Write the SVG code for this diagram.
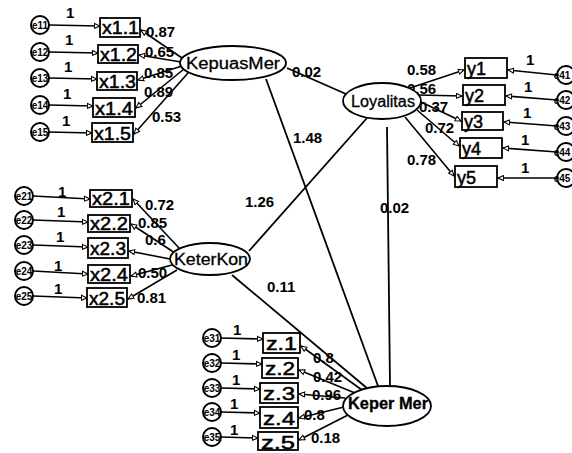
<svg xmlns="http://www.w3.org/2000/svg" width="572" height="453" viewBox="0 0 572 453">
<defs>
<marker id="ah" viewBox="0 0 10 10" refX="9" refY="5" markerWidth="7" markerHeight="7" markerUnits="userSpaceOnUse" orient="auto"><path d="M1,1.5 L9,5 L1,8.5 Z" fill="#fff" stroke="#000" stroke-width="1.5"/></marker>
<style>
.ln{stroke:#000;stroke-width:1.8;fill:none}
.ar{stroke:#000;stroke-width:1.6;fill:none;marker-end:url(#ah)}
.bx{fill:#fff;stroke:#000;stroke-width:1.8}
.el{fill:#fff;stroke:#000;stroke-width:1.8}
.ec{fill:#fff;stroke:#000;stroke-width:2}
.bt{font-family:"Liberation Sans",Arial,sans-serif;font-size:18px;fill:#000;stroke:#000;stroke-width:0.5}
.lt{font-family:"Liberation Sans",Arial,sans-serif;font-size:16px;fill:#000;stroke:#000;stroke-width:0.3;text-anchor:middle}
.nm{font-family:"Liberation Sans",Arial,sans-serif;font-size:15px;font-weight:bold;fill:#000}
.et{font-family:"Liberation Sans",Arial,sans-serif;font-size:10px;font-weight:bold;fill:#000;text-anchor:middle}
</style>
</defs>
<rect width="572" height="453" fill="#fff"/>
<g id="connectors">
<line class="ln" x1="287" y1="68" x2="346" y2="94"/>
<line class="ln" x1="266" y1="79" x2="378" y2="386"/>
<line class="ln" x1="367" y1="118" x2="249" y2="251"/>
<line class="ln" x1="387" y1="127" x2="390" y2="385"/>
<line class="ln" x1="232" y1="275" x2="368" y2="389"/>
<line class="ar" x1="49" y1="25" x2="100" y2="26"/>
<line class="ar" x1="49" y1="52" x2="98" y2="53"/>
<line class="ar" x1="49" y1="78" x2="97" y2="79"/>
<line class="ar" x1="49" y1="105" x2="93" y2="106"/>
<line class="ar" x1="49" y1="132" x2="92" y2="133"/>
<line class="ar" x1="182" y1="58" x2="141" y2="30"/>
<line class="ar" x1="181" y1="62" x2="139" y2="55"/>
<line class="ar" x1="182" y1="66" x2="138" y2="80"/>
<line class="ar" x1="184" y1="69" x2="136" y2="108"/>
<line class="ar" x1="188" y1="73" x2="134" y2="134"/>
<line class="ar" x1="33" y1="196" x2="90" y2="199"/>
<line class="ar" x1="33" y1="220" x2="88" y2="222"/>
<line class="ar" x1="33" y1="245" x2="88" y2="247"/>
<line class="ar" x1="33" y1="271" x2="88" y2="274"/>
<line class="ar" x1="33" y1="296" x2="87" y2="298"/>
<line class="ar" x1="180" y1="249" x2="133" y2="199"/>
<line class="ar" x1="175" y1="253" x2="131" y2="224"/>
<line class="ar" x1="170" y1="259" x2="129" y2="251"/>
<line class="ar" x1="172" y1="265" x2="131" y2="276"/>
<line class="ar" x1="177" y1="270" x2="128" y2="299"/>
<line class="ar" x1="221" y1="338" x2="263" y2="339"/>
<line class="ar" x1="221" y1="363" x2="262" y2="364"/>
<line class="ar" x1="221" y1="388" x2="260" y2="389"/>
<line class="ar" x1="221" y1="412" x2="260" y2="413"/>
<line class="ar" x1="221" y1="437" x2="258" y2="438"/>
<line class="ar" x1="362" y1="390" x2="301" y2="346"/>
<line class="ar" x1="355" y1="393" x2="299" y2="370"/>
<line class="ar" x1="345" y1="398" x2="299" y2="394"/>
<line class="ar" x1="344" y1="407" x2="299" y2="418"/>
<line class="ar" x1="348" y1="415" x2="299" y2="440"/>
<line class="ar" x1="557" y1="75" x2="508" y2="70"/>
<line class="ar" x1="557" y1="100" x2="506" y2="96"/>
<line class="ar" x1="557" y1="126" x2="504" y2="122"/>
<line class="ar" x1="557" y1="152" x2="503" y2="148"/>
<line class="ar" x1="557" y1="178" x2="498" y2="178"/>
<line class="ar" x1="410" y1="88" x2="464" y2="70"/>
<line class="ar" x1="418" y1="95" x2="462" y2="96"/>
<line class="ar" x1="421" y1="102" x2="461" y2="121"/>
<line class="ar" x1="417" y1="110" x2="459" y2="146"/>
<line class="ar" x1="405" y1="117" x2="454" y2="176"/>
</g>
<g id="labels">
<text class="nm" x="292" y="77">0.02</text>
<text class="nm" x="293" y="143">1.48</text>
<text class="nm" x="245" y="207">1.26</text>
<text class="nm" x="380" y="213">0.02</text>
<text class="nm" x="267" y="292">0.11</text>
<text class="nm" x="66" y="18">1</text>
<text class="nm" x="65" y="45">1</text>
<text class="nm" x="64" y="72">1</text>
<text class="nm" x="63" y="99">1</text>
<text class="nm" x="62" y="126">1</text>
<text class="nm" x="146" y="37">0.87</text>
<text class="nm" x="145" y="57">0.65</text>
<text class="nm" x="144" y="78">0.85</text>
<text class="nm" x="144" y="97">0.89</text>
<text class="nm" x="152" y="122">0.53</text>
<text class="nm" x="58" y="197">1</text>
<text class="nm" x="57" y="217">1</text>
<text class="nm" x="56" y="242">1</text>
<text class="nm" x="54" y="271">1</text>
<text class="nm" x="54" y="294">1</text>
<text class="nm" x="145" y="210">0.72</text>
<text class="nm" x="138" y="228">0.85</text>
<text class="nm" x="145" y="245">0.6</text>
<text class="nm" x="138" y="278">0.50</text>
<text class="nm" x="137" y="303">0.81</text>
<text class="nm" x="233" y="335">1</text>
<text class="nm" x="232" y="360">1</text>
<text class="nm" x="232" y="385">1</text>
<text class="nm" x="230" y="409">1</text>
<text class="nm" x="230" y="435">1</text>
<text class="nm" x="313" y="363">0.8</text>
<text class="nm" x="313" y="382">0.42</text>
<text class="nm" x="312" y="400">0.96</text>
<text class="nm" x="304" y="420">0.8</text>
<text class="nm" x="311" y="443">0.18</text>
<text class="nm" x="526" y="65">1</text>
<text class="nm" x="524" y="92">1</text>
<text class="nm" x="523" y="118">1</text>
<text class="nm" x="521" y="145">1</text>
<text class="nm" x="521" y="173">1</text>
<text class="nm" x="407" y="75">0.58</text>
<text class="nm" x="407" y="94">0.56</text>
<text class="nm" x="419" y="112">0.37</text>
<text class="nm" x="425" y="133">0.72</text>
<text class="nm" x="407" y="165">0.78</text>
</g>
<g id="KepuasMer"><ellipse class="el" cx="233" cy="63" rx="53" ry="17"/><text class="lt" x="233" y="69" textLength="94" lengthAdjust="spacingAndGlyphs">KepuasMer</text></g>
<g id="Loyalitas"><ellipse class="el" cx="382" cy="101" rx="39" ry="18"/><text class="lt" x="383" y="107" textLength="64" lengthAdjust="spacingAndGlyphs">Loyalitas</text></g>
<g id="KeterKon"><ellipse class="el" cx="210" cy="259" rx="40" ry="16"/><text class="lt" x="211" y="265" textLength="74" lengthAdjust="spacingAndGlyphs">KeterKon</text></g>
<g id="KeperMer"><ellipse class="el" cx="387" cy="406" rx="44" ry="20"/><text class="lt" x="388" y="409" font-weight="bold" textLength="80" lengthAdjust="spacingAndGlyphs">Keper Mer</text></g>
<g id="x1.1"><rect class="bx" x="100" y="18" width="40" height="19"/><text class="bt" x="102" y="34" textLength="37" lengthAdjust="spacingAndGlyphs">x1.1</text></g>
<g id="x1.2"><rect class="bx" x="98" y="45" width="40" height="18"/><text class="bt" x="100" y="61" textLength="37" lengthAdjust="spacingAndGlyphs">x1.2</text></g>
<g id="x1.3"><rect class="bx" x="97" y="72" width="40" height="18"/><text class="bt" x="99" y="88" textLength="37" lengthAdjust="spacingAndGlyphs">x1.3</text></g>
<g id="x1.4"><rect class="bx" x="93" y="98" width="42" height="19"/><text class="bt" x="95" y="115" textLength="38" lengthAdjust="spacingAndGlyphs">x1.4</text></g>
<g id="x1.5"><rect class="bx" x="92" y="123" width="41" height="19"/><text class="bt" x="94" y="140" textLength="37" lengthAdjust="spacingAndGlyphs">x1.5</text></g>
<g id="x2.1"><rect class="bx" x="90" y="190" width="42" height="17"/><text class="bt" x="92" y="205" textLength="38" lengthAdjust="spacingAndGlyphs">x2.1</text></g>
<g id="x2.2"><rect class="bx" x="88" y="215" width="42" height="17"/><text class="bt" x="90" y="230" textLength="38" lengthAdjust="spacingAndGlyphs">x2.2</text></g>
<g id="x2.3"><rect class="bx" x="88" y="238" width="40" height="20"/><text class="bt" x="90" y="255" textLength="36" lengthAdjust="spacingAndGlyphs">x2.3</text></g>
<g id="x2.4"><rect class="bx" x="88" y="265" width="42" height="18"/><text class="bt" x="90" y="281" textLength="38" lengthAdjust="spacingAndGlyphs">x2.4</text></g>
<g id="x2.5"><rect class="bx" x="87" y="288" width="40" height="19"/><text class="bt" x="89" y="305" textLength="36" lengthAdjust="spacingAndGlyphs">x2.5</text></g>
<g id="z.1"><rect class="bx" x="263" y="333" width="37" height="20"/><text class="bt" x="266" y="350" textLength="31" lengthAdjust="spacingAndGlyphs">z.1</text></g>
<g id="z.2"><rect class="bx" x="262" y="358" width="36" height="20"/><text class="bt" x="265" y="375" textLength="30" lengthAdjust="spacingAndGlyphs">z.2</text></g>
<g id="z.3"><rect class="bx" x="260" y="383" width="38" height="20"/><text class="bt" x="263" y="400" textLength="32" lengthAdjust="spacingAndGlyphs">z.3</text></g>
<g id="z.4"><rect class="bx" x="260" y="407" width="38" height="21"/><text class="bt" x="263" y="425" textLength="32" lengthAdjust="spacingAndGlyphs">z.4</text></g>
<g id="z.5"><rect class="bx" x="258" y="432" width="40" height="18"/><text class="bt" x="261" y="449" textLength="34" lengthAdjust="spacingAndGlyphs">z.5</text></g>
<g id="y1"><rect class="bx" x="465" y="58" width="42" height="20"/><text class="bt" x="467" y="75">y1</text></g>
<g id="y2"><rect class="bx" x="463" y="85" width="42" height="20"/><text class="bt" x="465" y="102">y2</text></g>
<g id="y3"><rect class="bx" x="462" y="112" width="41" height="18"/><text class="bt" x="464" y="128">y3</text></g>
<g id="y4"><rect class="bx" x="460" y="138" width="42" height="20"/><text class="bt" x="462" y="155">y4</text></g>
<g id="y5"><rect class="bx" x="455" y="166" width="42" height="21"/><text class="bt" x="457" y="184">y5</text></g>
<g id="e11"><circle class="ec" cx="40" cy="25" r="9"/><text class="et" x="40" y="29">e11</text></g>
<g id="e12"><circle class="ec" cx="40" cy="52" r="9"/><text class="et" x="40" y="56">e12</text></g>
<g id="e13"><circle class="ec" cx="40" cy="78" r="9"/><text class="et" x="40" y="82">e13</text></g>
<g id="e14"><circle class="ec" cx="40" cy="105" r="9"/><text class="et" x="40" y="109">e14</text></g>
<g id="e15"><circle class="ec" cx="40" cy="132" r="9"/><text class="et" x="40" y="136">e15</text></g>
<g id="e21"><circle class="ec" cx="24" cy="196" r="9"/><text class="et" x="24" y="200">e21</text></g>
<g id="e22"><circle class="ec" cx="24" cy="220" r="9"/><text class="et" x="24" y="224">e22</text></g>
<g id="e23"><circle class="ec" cx="24" cy="245" r="9"/><text class="et" x="24" y="249">e23</text></g>
<g id="e24"><circle class="ec" cx="24" cy="271" r="9"/><text class="et" x="24" y="275">e24</text></g>
<g id="e25"><circle class="ec" cx="24" cy="296" r="9"/><text class="et" x="24" y="300">e25</text></g>
<g id="e31"><circle class="ec" cx="212" cy="338" r="9"/><text class="et" x="212" y="342">e31</text></g>
<g id="e32"><circle class="ec" cx="212" cy="363" r="9"/><text class="et" x="212" y="367">e32</text></g>
<g id="e33"><circle class="ec" cx="212" cy="388" r="9"/><text class="et" x="212" y="392">e33</text></g>
<g id="e34"><circle class="ec" cx="212" cy="412" r="9"/><text class="et" x="212" y="416">e34</text></g>
<g id="e35"><circle class="ec" cx="212" cy="437" r="9"/><text class="et" x="212" y="441">e35</text></g>
<g id="e41"><circle class="ec" cx="566" cy="75" r="9"/><text class="et" x="562" y="79">e41</text></g>
<g id="e42"><circle class="ec" cx="566" cy="100" r="9"/><text class="et" x="562" y="104">e42</text></g>
<g id="e43"><circle class="ec" cx="566" cy="126" r="9"/><text class="et" x="562" y="130">e43</text></g>
<g id="e44"><circle class="ec" cx="566" cy="152" r="9"/><text class="et" x="562" y="156">e44</text></g>
<g id="e45"><circle class="ec" cx="566" cy="178" r="9"/><text class="et" x="562" y="182">e45</text></g>
</svg>
